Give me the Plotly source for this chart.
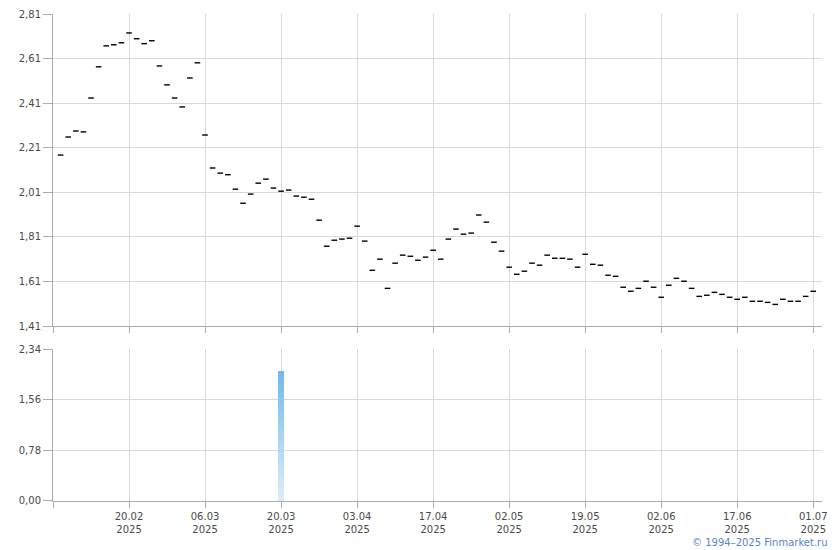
import plotly.graph_objects as go
from plotly.subplots import make_subplots

# Trading-day index positions (category positions)
prices = [
    2.177, 2.258, 2.285, 2.281, 2.433, 2.573, 2.667, 2.672, 2.681, 2.725,
    2.699, 2.677, 2.690, 2.577, 2.492, 2.433, 2.393, 2.523, 2.591, 2.267,
    2.119, 2.096, 2.089, 2.024, 1.961, 2.002, 2.051, 2.069, 2.029, 2.015,
    2.020, 1.993, 1.988, 1.979, 1.885, 1.768, 1.795, 1.800, 1.804, 1.858,
    1.791, 1.660, 1.710, 1.579, 1.692, 1.728, 1.723, 1.705, 1.719, 1.750,
    1.710, 1.800, 1.845, 1.822, 1.827, 1.908, 1.876, 1.786, 1.746, 1.674,
    1.642, 1.656, 1.692, 1.683, 1.728, 1.714, 1.714, 1.710, 1.674, 1.732,
    1.687, 1.683, 1.638, 1.633, 1.584, 1.566, 1.579, 1.611, 1.584, 1.539,
    1.593, 1.624, 1.611, 1.579, 1.543, 1.548, 1.561, 1.552, 1.539, 1.530,
    1.539, 1.521, 1.521, 1.516, 1.507, 1.530, 1.521, 1.521, 1.543, 1.566,
]
volume_idx = [29]
volume_vals = [2.006]

tick_idx = [-1, 9, 19, 29, 39, 49, 59, 69, 79, 89, 99]
tick_dates = ["", "20.02", "06.03", "20.03", "03.04", "17.04", "02.05",
              "19.05", "02.06", "17.06", "01.07"]
tick_year = "2025"

x = list(range(len(prices)))

fig = make_subplots(rows=2, cols=1, shared_xaxes=False, vertical_spacing=0.0)

fig.add_trace(go.Scatter(
    x=x, y=prices, mode="markers",
    marker=dict(symbol="line-ew", size=4, line=dict(width=1.4, color="#000000")),
    hoverinfo="x+y", showlegend=False), row=1, col=1)

# gradient bar drawn as stacked slices of the volume value
n_seg = 30
c0 = (0xdf, 0xec, 0xf8)
c1 = (0x74, 0xb9, 0xee)
for k in range(n_seg):
    t = k / (n_seg - 1)
    col = "rgb(%d,%d,%d)" % tuple(round(c0[i] + (c1[i] - c0[i]) * t) for i in range(3))
    fig.add_trace(go.Bar(
        x=volume_idx, y=[v / n_seg for v in volume_vals], width=0.78,
        marker=dict(color=col, line=dict(width=0)),
        showlegend=False, hoverinfo="skip"), row=2, col=1)

grid = "#d6dadd"
axc = "#a9acb8"
font = dict(family="DejaVu Sans", size=10, color="#4a4a4a")
xrange = [-1.0, 100.15]

fig.update_layout(
    width=840, height=550,
    margin=dict(l=53, r=18, t=14, b=49, autoexpand=False),
    paper_bgcolor="white", plot_bgcolor="white",
    barmode="stack", separators=", ",
    font=font,
    xaxis=dict(domain=[0, 1], range=xrange, tickmode="array", tickvals=tick_idx,
               ticktext=[""] * len(tick_idx), showgrid=True, gridcolor=grid,
               showline=True, linecolor=axc, linewidth=1, ticks="outside",
               ticklen=6, tickcolor=axc, zeroline=False, anchor="y",
               automargin=False),
    yaxis=dict(domain=[0.3593, 1], range=[1.41, 2.81], tick0=1.41, dtick=0.2,
               tickformat=".2f", showgrid=True, gridcolor=grid, showline=True,
               linecolor=axc, ticks="outside", ticklen=9, tickcolor=axc,
               zeroline=False, anchor="x", automargin=False),
    xaxis2=dict(domain=[0, 1], range=xrange, tickmode="array", tickvals=tick_idx,
                ticktext=[d + "<br>" + tick_year if d else "" for d in tick_dates],
                showgrid=True, gridcolor=grid, showline=True, linecolor=axc,
                ticks="outside", ticklen=6, tickcolor=axc, zeroline=False,
                tickangle=0, anchor="y2", automargin=False),
    yaxis2=dict(domain=[0, 0.3115], range=[0, 2.34], tick0=0, dtick=0.78,
                tickformat=".2f", showgrid=True, gridcolor=grid, showline=True,
                linecolor=axc, ticks="outside", ticklen=9, tickcolor=axc,
                zeroline=False, anchor="x2", automargin=False),
    annotations=[dict(text="© 1994–2025 Finmarket.ru", xref="paper", yref="paper",
                      x=1.0105, y=-0.070, xanchor="right", yanchor="top",
                      showarrow=False,
                      font=dict(family="DejaVu Sans", size=10, color="#5b82cc"))],
)

fig.write_html("out.html", config={"displayModeBar": False},
               post_script="document.body.style.margin='0px';document.body.style.overflow='hidden';")
